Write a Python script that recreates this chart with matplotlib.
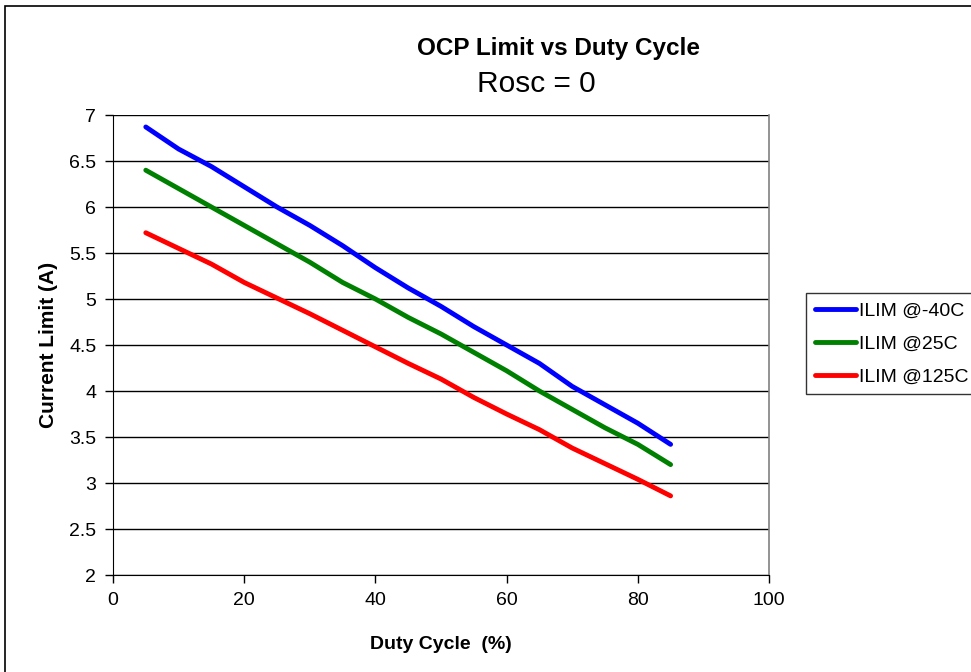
import matplotlib.pyplot as plt
from matplotlib.patches import Rectangle

plt.rcParams['font.family'] = ['Liberation Sans', 'DejaVu Sans']

duty = [5, 10, 15, 20, 25, 30, 35, 40, 45, 50, 55, 60, 65, 70, 75, 80, 85]
ilim_m40 = [6.87, 6.63, 6.44, 6.22, 6.00, 5.80, 5.58, 5.34, 5.12, 4.92, 4.70,
            4.50, 4.30, 4.05, 3.85, 3.65, 3.42]
ilim_25 = [6.40, 6.20, 6.00, 5.80, 5.60, 5.40, 5.18, 5.00, 4.80, 4.62, 4.42,
           4.22, 4.00, 3.80, 3.60, 3.42, 3.20]
ilim_125 = [5.72, 5.55, 5.38, 5.18, 5.01, 4.84, 4.66, 4.48, 4.30, 4.13, 3.93,
            3.75, 3.58, 3.38, 3.21, 3.04, 2.86]
labels = ['ILIM @-40C', 'ILIM @25C', 'ILIM @125C']
colors = ['#0000ff', '#008000', '#ff0000']

fig = plt.figure(figsize=(9.71, 6.72), dpi=100)
ax = fig.add_axes([113 / 971, 1 - 575 / 672, 656 / 971, 460 / 672])

for ys, lab, col in zip([ilim_m40, ilim_25, ilim_125], labels, colors):
    ax.plot(duty, ys, color=col, lw=3.5, label=lab, solid_capstyle='round')

ax.set_xlim(0, 100)
ax.set_ylim(2, 7)
ax.set_xticks(range(0, 101, 20))
ax.set_yticks([2, 2.5, 3, 3.5, 4, 4.5, 5, 5.5, 6, 6.5, 7])
ax.set_yticklabels(['2', '2.5', '3', '3.5', '4', '4.5', '5', '5.5', '6', '6.5', '7'])
ax.yaxis.grid(True, color='black', lw=1)
ax.set_axisbelow(True)
ax.tick_params(direction='out', length=6, width=1, labelsize=14, pad=6)

for s in ['left', 'bottom']:
    ax.spines[s].set_color('black')
ax.spines['top'].set_visible(False)
ax.spines['right'].set_color('#808080')
ax.spines['right'].set_linewidth(1.2)

ax.set_xlabel('Duty Cycle  (%)', fontsize=14, fontweight='bold', labelpad=20)
ax.set_ylabel('Current Limit (A)', fontsize=15, fontweight='bold', labelpad=8)

fig.text(558 / 971, 1 - 55 / 672, 'OCP Limit vs Duty Cycle', fontsize=17.5,
         fontweight='bold', ha='center', va='baseline')
fig.text(536 / 971, 1 - 92 / 672, 'Rosc = 0', fontsize=21.5, ha='center', va='baseline')

leg = ax.legend(loc='upper left', bbox_to_anchor=(806 / 971, 1 - 293 / 672),
                bbox_transform=fig.transFigure, frameon=True, fancybox=False,
                fontsize=14, handlelength=2.1, handletextpad=0.2,
                borderpad=0.45, labelspacing=0.8, borderaxespad=0)
leg.get_frame().set_edgecolor('black')
leg.get_frame().set_linewidth(1)

# outer chart border
fig.patches.append(Rectangle((5 / 971, -0.01), 1.0, 1 - 6 / 672 + 0.01,
                             transform=fig.transFigure, fill=False,
                             edgecolor='black', lw=1.2))

fig.savefig('out.png', dpi=100)
